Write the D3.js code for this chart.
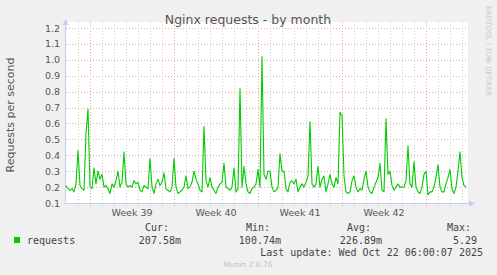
<!DOCTYPE html>
<html>
<head>
<meta charset="utf-8">
<script src="https://cdn.jsdelivr.net/npm/d3@7"></script>
<style>
  html, body { margin: 0; padding: 0; background: #f0f0f0; }
  svg { display: block; }
</style>
</head>
<body>
<div id="chart"></div>
<script>
// one reading every 4 hours, starting Sat Sep 20 2025 00:00
const startDate = new Date(2025, 8, 20, 0, 0);
const stepHours = 4;
const requests = [
  0.21, 0.19, 0.18, 0.19, 0.17, 0.22, 0.43, 0.21, 0.19, 0.18, 0.54, 0.69, 0.20, 0.19, 0.32, 0.22,
  0.30, 0.25, 0.28, 0.20, 0.21, 0.19, 0.16, 0.22, 0.20, 0.24, 0.30, 0.20, 0.23, 0.42, 0.22, 0.20,
  0.21,
  0.20, 0.24, 0.22, 0.23, 0.18, 0.17, 0.21, 0.20, 0.19, 0.38, 0.20, 0.16, 0.22, 0.25, 0.21, 0.23,
  0.29, 0.19, 0.18, 0.17, 0.20, 0.38, 0.20, 0.16, 0.17, 0.18, 0.20, 0.27, 0.19, 0.20, 0.23, 0.30,
  0.25, 0.22,
  0.18, 0.17, 0.58, 0.24, 0.20, 0.26, 0.20, 0.18, 0.16, 0.20, 0.22, 0.23, 0.35, 0.20, 0.19, 0.18,
  0.20, 0.32, 0.17, 0.19, 0.82, 0.20, 0.33, 0.22, 0.17, 0.16, 0.19, 0.20, 0.22, 0.31, 0.20, 1.02,
  0.28,
  0.25, 0.30, 0.30, 0.20, 0.17, 0.18, 0.20, 0.41, 0.30, 0.30, 0.19, 0.17, 0.23, 0.24, 0.22, 0.25,
  0.17, 0.20, 0.22, 0.20, 0.23, 0.27, 0.61, 0.22, 0.20, 0.22, 0.33, 0.20, 0.25, 0.27, 0.17, 0.22,
  0.28,
  0.22, 0.20, 0.26, 0.22, 0.67, 0.65, 0.27, 0.17, 0.16, 0.17, 0.24, 0.27, 0.20, 0.17, 0.19, 0.18,
  0.25, 0.30, 0.20, 0.17, 0.16, 0.20, 0.23, 0.26, 0.35, 0.18, 0.17, 0.63, 0.28, 0.30, 0.21, 0.18,
  0.20, 0.22,
  0.20, 0.20, 0.20, 0.24, 0.46, 0.22, 0.20, 0.36, 0.20, 0.17, 0.16, 0.20, 0.28, 0.30, 0.15, 0.17,
  0.17, 0.20, 0.26, 0.34, 0.20, 0.17, 0.17, 0.22, 0.26, 0.31, 0.19, 0.16, 0.20, 0.30, 0.42, 0.26,
  0.21, 0.20
];
const yTicks = [0.1, 0.2, 0.3, 0.4, 0.5, 0.6, 0.7, 0.8, 0.9, 1.0, 1.1, 1.2];
const statLabels = ["Cur:", "Min:", "Avg:", "Max:"];
const statValues = ["207.58m", "100.74m", "226.89m", "5.29"];

const W = 497, H = 275;
const plotLeft = 66, plotRight = 468, plotTop = 28, plotBottom = 203;

const svg = d3.select("#chart").append("svg")
    .attr("width", W)
    .attr("height", H);

svg.append("rect").attr("width", W).attr("height", H).attr("fill", "#f0f0f0");
svg.append("rect")
    .attr("x", plotLeft).attr("y", plotTop - 6)
    .attr("width", plotRight - plotLeft).attr("height", plotBottom - plotTop + 6)
    .attr("fill", "#ffffff");

const data = requests.map((v, i) => ({ t: d3.timeHour.offset(startDate, i * stepHours), v }));

const x = d3.scaleTime()
    .domain([startDate, d3.timeHour.offset(startDate, 804)])
    .range([plotLeft, plotRight]);
const y = d3.scaleLinear().domain([0.1, 1.2]).range([plotBottom, plotTop]);

// grid: days (grey) and weeks (red)
const days = d3.timeDay.range(d3.timeDay.offset(startDate, 1), x.domain()[1]);
const weeks = d3.timeMonday.range(startDate, x.domain()[1]);
const grid = svg.append("g").attr("shape-rendering", "crispEdges");
grid.selectAll(".day").data(days.filter(d => d.getDay() !== 1)).join("line")
    .attr("x1", d => Math.round(x(d)) + 0.5).attr("x2", d => Math.round(x(d)) + 0.5)
    .attr("y1", plotTop - 6).attr("y2", plotBottom + 3)
    .attr("stroke", "#d0d0d0").attr("stroke-dasharray", "1,2");
grid.selectAll(".hline").data(yTicks.slice(1)).join("line")
    .attr("x1", plotLeft).attr("x2", plotRight)
    .attr("y1", d => Math.round(y(d)) + 0.5).attr("y2", d => Math.round(y(d)) + 0.5)
    .attr("stroke", "#f0a8a8").attr("stroke-dasharray", "1,2");
grid.selectAll(".week").data(weeks).join("line")
    .attr("x1", d => Math.round(x(d)) + 0.5).attr("x2", d => Math.round(x(d)) + 0.5)
    .attr("y1", plotTop - 6).attr("y2", plotBottom + 3)
    .attr("stroke", "#f0a0a0").attr("stroke-dasharray", "1,2");

// y axis labels
svg.append("g").selectAll("text").data(yTicks).join("text")
    .attr("x", 60).attr("y", d => y(d) + 3.5)
    .attr("text-anchor", "end")
    .attr("font-family", "DejaVu Sans").attr("font-size", 9.5)
    .attr("fill", "#555")
    .text(d => d.toFixed(1));

// x axis labels, centred on each week
svg.append("g").selectAll("text").data(weeks.slice(0, 4)).join("text")
    .attr("x", d => x(d3.timeHour.offset(d, 84)))
    .attr("y", 216)
    .attr("text-anchor", "middle")
    .attr("font-family", "DejaVu Sans").attr("font-size", 9.5)
    .attr("fill", "#555")
    .text(d => "Week " + d3.timeFormat("%V")(d));

// axes with arrows
svg.append("line").attr("x1", plotLeft - 0.5).attr("x2", plotLeft - 0.5).attr("y1", plotBottom + 1).attr("y2", plotTop - 4)
    .attr("stroke", "#c8ccf4");
svg.append("line").attr("x1", plotLeft - 2).attr("x2", plotRight + 2).attr("y1", plotBottom + 0.5).attr("y2", plotBottom + 0.5)
    .attr("stroke", "#c8ccf4");
svg.append("path").attr("d", `M${plotLeft - 3.5},${plotTop - 3} L${plotLeft - 0.5},${plotTop - 9} L${plotLeft + 2.5},${plotTop - 3} Z`)
    .attr("fill", "#c8ccf4");
svg.append("path").attr("d", `M${plotRight + 1},${plotBottom - 2.5} L${plotRight + 7},${plotBottom + 0.5} L${plotRight + 1},${plotBottom + 3.5} Z`)
    .attr("fill", "#c8ccf4");

// data line
const line = d3.line().x(d => x(d.t)).y(d => y(d.v));
svg.append("path").datum(data)
    .attr("d", line)
    .attr("fill", "none")
    .attr("stroke", "#00cc00")
    .attr("stroke-width", 1.1)
    .attr("stroke-linejoin", "round");

// title and labels
svg.append("text").attr("x", 248).attr("y", 24).attr("text-anchor", "middle")
    .attr("font-family", "DejaVu Sans").attr("font-size", 12.5).attr("fill", "#555")
    .text("Nginx requests - by month");
svg.append("text").attr("transform", "translate(14,115) rotate(-90)").attr("text-anchor", "middle")
    .attr("font-family", "DejaVu Sans").attr("font-size", 11).attr("fill", "#555")
    .text("Requests per second");
svg.append("text").attr("transform", "translate(486,6) rotate(90)")
    .attr("font-family", "DejaVu Sans").attr("font-size", 7).attr("fill", "#c8c8c8")
    .text("RRDTOOL / TOBI OETIKER");

// legend
const mono = "DejaVu Sans Mono";
svg.append("rect").attr("x", 14).attr("y", 237).attr("width", 6).attr("height", 6).attr("fill", "#00cc00");
svg.append("text").attr("x", 27).attr("y", 243.5)
    .attr("font-family", mono).attr("font-size", 10).attr("fill", "#444").text("requests");
const headX = [145, 246, 347, 447];
const valEnd = [181, 281, 382, 477];
svg.append("g").selectAll("text").data(statLabels).join("text")
    .attr("x", (d, i) => headX[i]).attr("y", 231)
    .attr("font-family", mono).attr("font-size", 10).attr("fill", "#444").text(d => d);
svg.append("g").selectAll("text").data(statValues).join("text")
    .attr("x", (d, i) => valEnd[i]).attr("y", 243.5).attr("text-anchor", "end")
    .attr("font-family", mono).attr("font-size", 10).attr("fill", "#444").text(d => d);
svg.append("text").attr("x", 483).attr("y", 255.5).attr("text-anchor", "end")
    .attr("font-family", mono).attr("font-size", 10).attr("fill", "#444")
    .text("Last update: Wed Oct 22 06:00:07 2025");
svg.append("text").attr("x", 248).attr("y", 266.5).attr("text-anchor", "middle")
    .attr("font-family", "DejaVu Sans").attr("font-size", 7.5).attr("fill", "#c0c0c0")
    .text("Munin 2.0.76");
</script>
</body>
</html>
